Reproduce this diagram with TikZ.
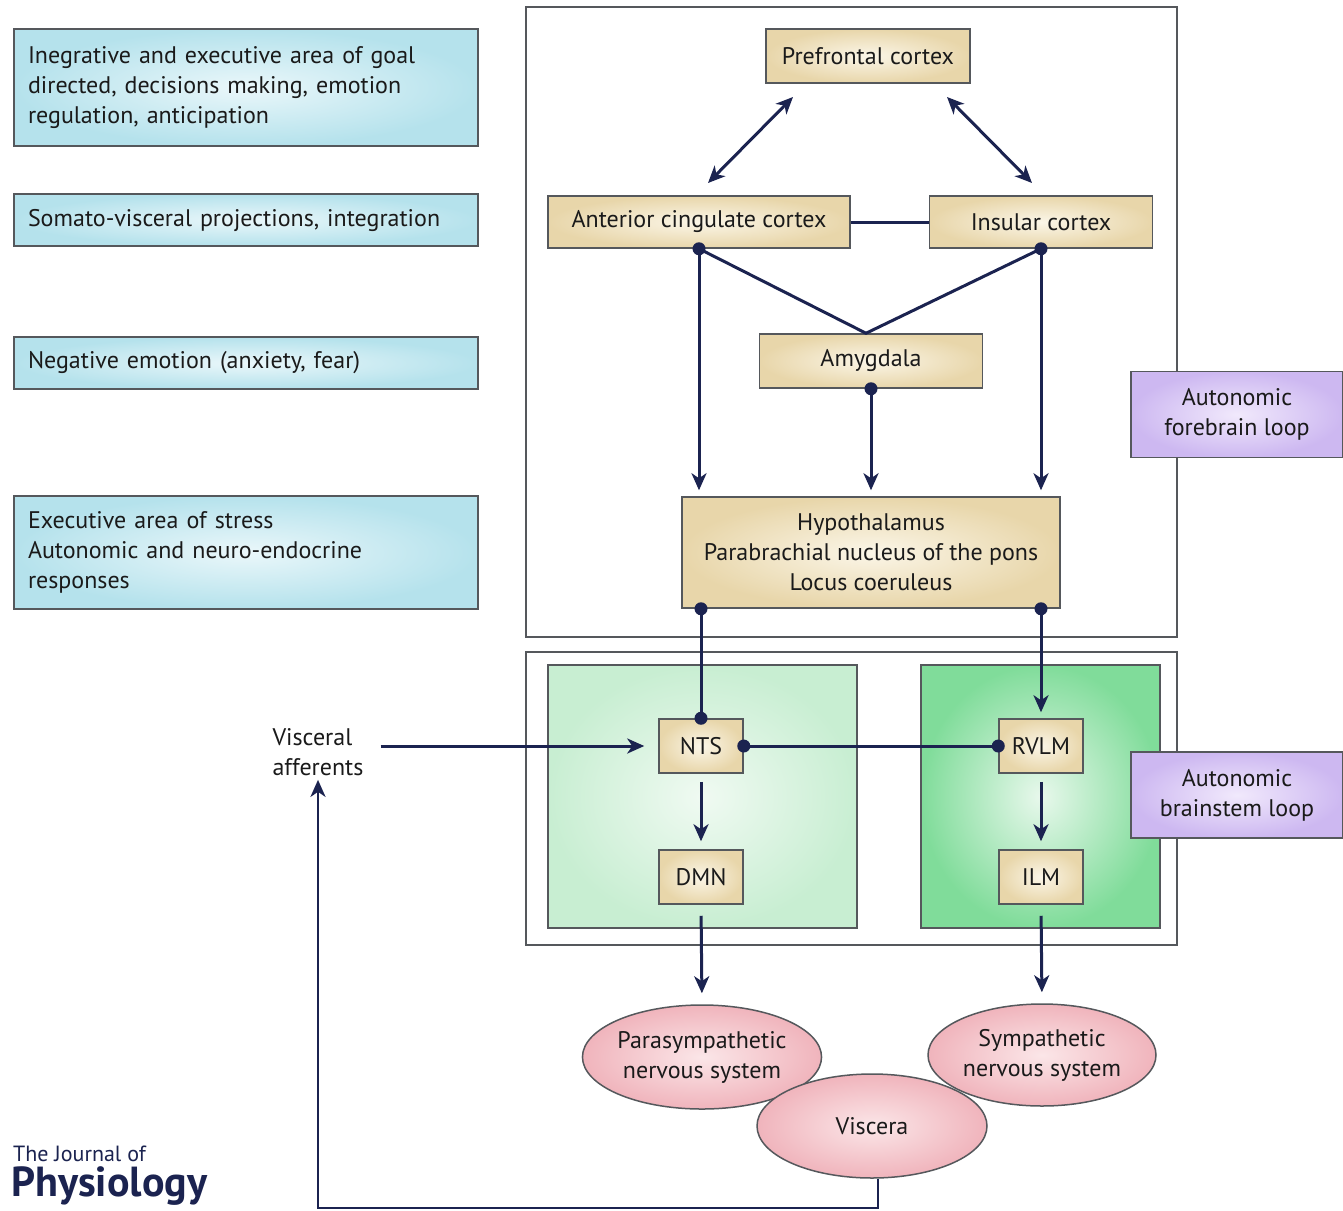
\documentclass[tikz,border=0pt]{standalone}
\usepackage{fontspec}
\setmainfont{PT Sans}
\usetikzlibrary{arrows.meta,shapes.geometric,calc}
\definecolor{navy}{HTML}{1B2350}
\definecolor{boxgray}{HTML}{55585C}
\definecolor{textc}{HTML}{1A1A1A}
\definecolor{tanin}{HTML}{FBF6E8}
\definecolor{tanout}{HTML}{E8D6AA}
\definecolor{bluein}{HTML}{EAF7FA}
\definecolor{blueout}{HTML}{B5E2EC}
\definecolor{greenLin}{HTML}{F0FAF2}
\definecolor{greenLout}{HTML}{C8EED2}
\definecolor{greenRin}{HTML}{E8F8EC}
\definecolor{greenRout}{HTML}{80DC9A}
\definecolor{purin}{HTML}{F1E9FC}
\definecolor{purout}{HTML}{CDB8F1}
\definecolor{pinkin}{HTML}{FBE6E8}
\definecolor{pinkout}{HTML}{F0B4BC}
\begin{document}
\begin{tikzpicture}[x=1pt,y=-1pt,
  every node/.style={font=\fontsize{24}{30}\selectfont, text=textc},
  tanbox/.style={draw=boxgray, line width=1.5pt, inner color=tanin, outer color=tanout, align=center, inner sep=0pt},
  bluebox/.style={draw=boxgray, line width=1.5pt, inner color=bluein, outer color=blueout, align=left, inner sep=0pt, minimum width=464, text width=436},
  purbox/.style={draw=boxgray, line width=1.5pt, inner color=purin, outer color=purout, align=center, inner sep=0pt, minimum width=212, minimum height=86},
  pinkell/.style={ellipse, draw=boxgray, line width=1.5pt, inner color=pinkin, outer color=pinkout, align=center, inner sep=0pt},
  frame/.style={draw=boxgray, line width=1.5pt},
  arr/.style={draw=navy, line width=3pt, -{Stealth[length=17pt,width=15pt,inset=5pt]}},
  dbl/.style={draw=navy, line width=3pt, {Stealth[length=17pt,width=15pt,inset=5pt]}-{Stealth[length=17pt,width=15pt,inset=5pt]}},
  ln/.style={draw=navy, line width=3pt},
  dot/.style={fill=navy}
]
\useasboundingbox (0,0) rectangle (1343,1210);
\fill[white] (0,0) rectangle (1343,1210);

% left description boxes
\node[bluebox, minimum height=117] (d1) at (246,87.5) {Inegrative and executive area of goal\\directed, decisions making, emotion\\regulation, anticipation};
\node[bluebox, minimum height=52] (d2) at (246,220) {Somato-visceral projections, integration};
\node[bluebox, minimum height=52] (d3) at (246,363) {Negative emotion (anxiety, fear)};
\node[bluebox, minimum height=113] (d4) at (246,552.5) {Executive area of stress\\Autonomic and neuro-endocrine\\responses};

% frames
\node[frame, minimum width=651, minimum height=630, inner sep=0pt] (fore) at (851.5,322) {};
\node[frame, minimum width=651, minimum height=293, inner sep=0pt] (brain) at (851.5,798.5) {};
\node[draw=boxgray, line width=1.5pt, inner color=greenLin, outer color=greenLout, minimum width=309, minimum height=263, inner sep=0pt] (gl) at (702.5,796.5) {};
\node[draw=boxgray, line width=1.5pt, inner color=greenRin, outer color=greenRout, minimum width=239, minimum height=263, inner sep=0pt] (gr) at (1040.5,796.5) {};

% purple labels
\node[purbox] (pf) at (1237,414.5) {Autonomic\\forebrain loop};
\node[purbox] (pb) at (1237,795) {Autonomic\\brainstem loop};

% tan boxes
\node[tanbox, minimum width=204, minimum height=54] (pfc) at (868,56) {Prefrontal cortex};
\node[tanbox, minimum width=302, minimum height=52] (acc) at (699,222) {Anterior cingulate cortex};
\node[tanbox, minimum width=223, minimum height=52] (ins) at (1041,222) {Insular cortex};
\node[tanbox, minimum width=223, minimum height=54] (amy) at (871,361) {Amygdala};
\node[tanbox, minimum width=378, minimum height=111] (hyp) at (871,552.5) {Hypothalamus\\Parabrachial nucleus of the pons\\Locus coeruleus};
\node[tanbox, minimum width=84, minimum height=54] (nts) at (701,746) {NTS};
\node[tanbox, minimum width=84, minimum height=54] (rvlm) at (1041,746) {RVLM};
\node[tanbox, minimum width=84, minimum height=54] (dmn) at (701,877) {DMN};
\node[tanbox, minimum width=84, minimum height=54] (ilm) at (1041,877) {ILM};

% ellipses
\node[pinkell, minimum width=234, minimum height=104] (para) at (702,1057) {Parasympathetic\\nervous system};
\node[pinkell, minimum width=228, minimum height=102] (symp) at (1042,1055) {Sympathetic\\nervous system};
\node[pinkell, minimum width=230, minimum height=104] (visc) at (872,1126) {Viscera};

% visceral afferents
\node[align=left, inner sep=0pt] (va) at (318,752) {Visceral\\afferents};

% connectors
\coordinate (p1) at (793,97);
\coordinate (a1) at (708,183);
\coordinate (p2) at (947,97);
\coordinate (i1) at (1032,183);
\draw[dbl] (a1) -- (p1);
\draw[dbl] (p2) -- (i1);
\draw[ln] (acc.east) -- (ins.west);

\coordinate (apex) at ($(amy.north)+(-5,0)$);
\draw[ln] (acc.south) -- (apex) -- (ins.south);
\draw[arr, shorten >=6pt] (acc.south) -- (acc.south |- hyp.north);
\draw[arr, shorten >=6pt] (ins.south) -- (ins.south |- hyp.north);
\draw[arr, shorten >=6pt] (amy.south) -- (amy.south |- hyp.north);
\fill[dot] (acc.south) circle (6.5);
\fill[dot] (ins.south) circle (6.5);
\fill[dot] (amy.south) circle (6.5);

\draw[ln] (hyp.south -| nts.north) -- (nts.north);
\fill[dot] (hyp.south -| nts.north) circle (6.5);
\fill[dot] (nts.north) circle (6.5);
\draw[arr, shorten >=6pt] (hyp.south -| rvlm.north) -- (rvlm.north);
\fill[dot] (hyp.south -| rvlm.north) circle (6.5);

\draw[ln] (nts.east) -- (rvlm.west);
\fill[dot] (nts.east) circle (6.5);
\fill[dot] (rvlm.west) circle (6.5);

\draw[arr, shorten <=8pt, shorten >=8pt] (nts.south) -- (dmn.north);
\draw[arr, shorten <=8pt, shorten >=8pt] (rvlm.south) -- (ilm.north);
\draw[arr, shorten <=11pt, shorten >=11pt] (dmn.south) -- (para.north);
\draw[arr, shorten <=11pt, shorten >=11pt] (ilm.south) -- (symp.north);

\draw[arr, shorten <=17pt, shorten >=14pt] (va.east |- nts.west) -- (nts.west);

\coordinate (bot) at (0,1208);
\draw[ln, line width=2.5pt, -{Stealth[length=17pt,width=15pt,inset=5pt]}, shorten >=4pt] ($(visc.south)+(6,0)$) -- ($(visc.south |- bot)+(6,0)$) -| (va.south);

% logo
\node[anchor=west, inner sep=0pt, text=navy, font=\fontsize{22}{24}\selectfont] (lj) at (13,1154) {The Journal of};
\node[anchor=west, inner sep=0pt, text=navy, font=\fontsize{42}{44}\selectfont\bfseries] (lp) at (11,1186) {Physiology};
\end{tikzpicture}
\end{document}
